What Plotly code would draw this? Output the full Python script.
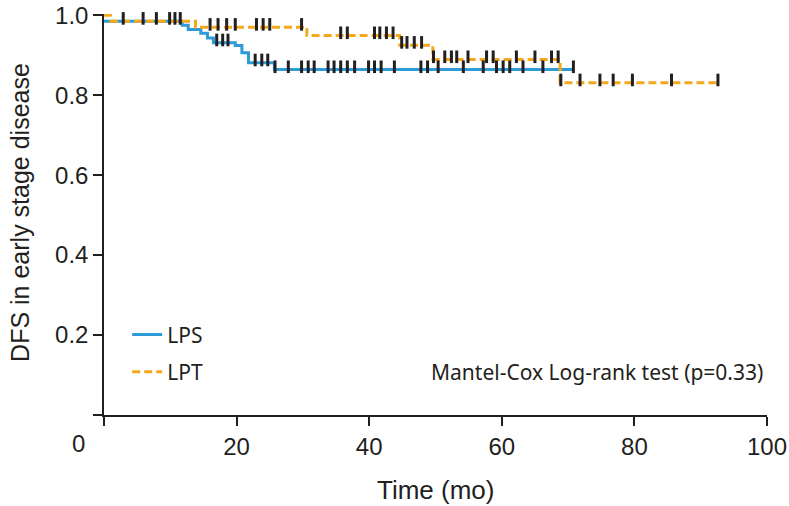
import numpy as np
import plotly.graph_objects as go

# ---- data ----
lps_times = [0, 11.8, 12.7, 14.6, 15.6, 16.5, 19.8, 20.8, 21.8, 25.7, 70.8]
lps_surv = [0.985, 0.975, 0.964, 0.955, 0.943, 0.931, 0.924, 0.906, 0.881, 0.864, 0.864]
lps_censor = [2.9, 7.9, 10.7, 17.0, 17.9, 18.7, 22.8, 23.8, 24.7,
              25.8, 27.8, 29.8, 30.8, 31.7, 33.8, 34.7, 35.7, 36.7, 37.8,
              39.9, 40.8, 41.8, 43.8, 47.8, 48.8, 50.4, 54.2, 57.2, 59.2,
              60.2, 61.2, 63.2, 66.2, 70.8]

lpt_times = [0, 1.0, 13.8, 30.6, 44.6, 49.6, 68.8, 92.6]
lpt_surv = [1.0, 0.985, 0.970, 0.949, 0.925, 0.889, 0.831, 0.831]
lpt_censor = [0.9, 5.9, 9.9, 11.5, 16.0, 17.2, 18.5, 19.8, 23.0, 24.0, 25.0,
              29.8, 35.7, 36.7, 40.8, 41.6, 42.6, 43.6, 44.9, 45.7, 46.8,
              47.9, 49.7, 51.4, 52.4, 53.2, 54.9, 57.7, 58.7, 62.2, 65.0,
              67.5, 68.5, 68.9, 71.8, 74.8, 76.8, 79.7, 85.6, 92.6]

x_tickvals = [0, 20, 40, 60, 80, 100]
x_ticktext = ["", "20", "40", "60", "80", "100"]
y_tickvals = [0, 0.2, 0.4, 0.6, 0.8, 1.0]
y_ticktext = ["", "0.2", "0.4", "0.6", "0.8", "1.0"]

BLUE = "#2D9BD7"
ORANGE = "#F5A81C"
TICKC = "#231F20"
TEXT = "#231F20"


def step_value(times, surv, t):
    idx = np.searchsorted(np.array(times), t, side="right") - 1
    return np.array(surv)[np.clip(idx, 0, len(surv) - 1)]


fig = go.Figure()
fig.add_trace(go.Scatter(x=lps_times, y=lps_surv, mode="lines", name="LPS",
                         legend="legend",
                         line=dict(color=BLUE, width=3, shape="hv")))
fig.add_trace(go.Scatter(x=lpt_times, y=lpt_surv, mode="lines", name="LPT",
                         legend="legend2",
                         line=dict(color=ORANGE, width=3, shape="hv", dash="8px,4px")))

off = 0.007
for times, surv, cens in [(lps_times, lps_surv, lps_censor), (lpt_times, lpt_surv, lpt_censor)]:
    cy = step_value(times, surv, np.array(cens)) + off
    fig.add_trace(go.Scatter(x=cens, y=cy, mode="markers", showlegend=False,
                             cliponaxis=False, hoverinfo="skip",
                             marker=dict(symbol="line-ns", size=9,
                                         line=dict(color=TICKC, width=3))))

tickfont = dict(family="Liberation Sans, Arial", size=24, color=TEXT)
legfont = dict(family="Noto Sans, Open Sans, sans-serif", size=21, color=TEXT)

fig.update_layout(
    width=789, height=506,
    margin=dict(l=104, r=22, t=14, b=91, autoexpand=False),
    paper_bgcolor="white", plot_bgcolor="white",
    showlegend=True,
    legend=dict(x=0.035, y=0.2, xanchor="left", yanchor="middle",
                font=legfont, bgcolor="rgba(0,0,0,0)"),
    legend2=dict(x=0.035, y=0.107, xanchor="left", yanchor="middle",
                 font=legfont, bgcolor="rgba(0,0,0,0)"),
    xaxis=dict(range=[0, 100], tickvals=x_tickvals, ticktext=x_ticktext,
               ticks="outside", ticklen=9, tickwidth=1.5, tickcolor=TICKC,
               showline=True, linecolor=TICKC, linewidth=1.5, showgrid=False,
               zeroline=False, tickfont=tickfont, automargin=False),
    yaxis=dict(range=[0, 1.003], tickvals=y_tickvals, ticktext=y_ticktext,
               ticks="outside", ticklen=9, tickwidth=1.5, tickcolor=TICKC,
               showline=True, linecolor=TICKC, linewidth=1.5, showgrid=False,
               zeroline=False, tickfont=tickfont, automargin=False),
)

fig.add_annotation(text="Time (mo)", xref="paper", yref="paper", x=0.5, y=-0.187,
                   xanchor="center", yanchor="middle", showarrow=False,
                   font=dict(family="Liberation Sans, Arial", size=26, color=TEXT))
fig.add_annotation(text="DFS in early stage disease", xref="paper", yref="paper",
                   x=-0.127, y=0.506, xanchor="center", yanchor="middle", textangle=-90,
                   showarrow=False,
                   font=dict(family="Liberation Sans, Arial", size=25, color=TEXT))
fig.add_annotation(text="0", xref="paper", yref="paper", x=-0.039, y=-0.07,
                   showarrow=False, xanchor="center", yanchor="middle", font=tickfont)
fig.add_annotation(text="Mantel-Cox Log-rank test (p=0.33)", xref="paper", yref="paper",
                   x=0.997, y=0.107, xanchor="right", yanchor="middle", showarrow=False,
                   font=legfont)

fig.write_html("out.html", config={"displayModeBar": False},
               post_script="document.body.style.margin='0px';document.body.style.padding='0px';")
